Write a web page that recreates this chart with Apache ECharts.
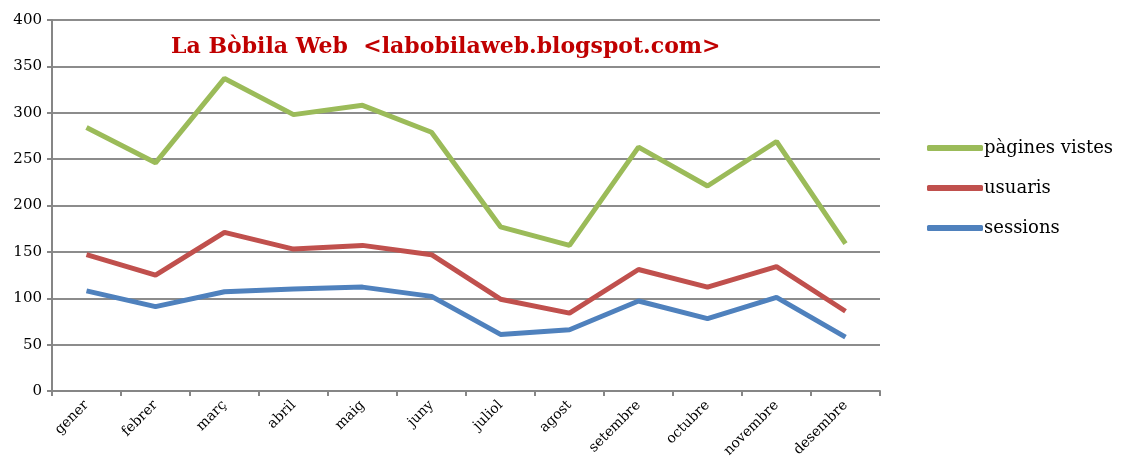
<!DOCTYPE html>
<html>
<head>
<meta charset="utf-8">
<style>
  html, body { margin: 0; padding: 0; background: #fff; }
  #chart { width: 1121px; height: 463px; }
</style>
</head>
<body>
<div id="chart"></div>
<script src="https://cdn.jsdelivr.net/npm/echarts@6/dist/echarts.min.js"></script>
<script>
var months = ['gener', 'febrer', 'març', 'abril', 'maig', 'juny', 'juliol', 'agost', 'setembre', 'octubre', 'novembre', 'desembre'];
var pagines = [284, 246, 337, 298, 308, 279, 177, 157, 263, 221, 269, 159];
var usuaris = [147, 125, 171, 153, 157, 147, 99, 84, 131, 112, 134, 86];
var sessions = [108, 91, 107, 110, 112, 102, 61, 66, 97, 78, 101, 58];

var serif = "'DejaVu Serif', 'Liberation Serif', serif";
var chart = echarts.init(document.getElementById('chart'));

function line(name, data, color) {
  return {
    name: name,
    type: 'line',
    data: data,
    symbol: 'none',
    lineStyle: { width: 5, color: color },
    itemStyle: { color: color }
  };
}

chart.setOption({
  animation: false,
  title: {
    text: 'La Bòbila Web  <labobilaweb.blogspot.com>',
    left: 166,
    top: 31,
    textStyle: { fontFamily: serif, fontSize: 22, fontWeight: 'bold', color: '#C00000' }
  },
  legend: {
    orient: 'vertical',
    left: 922,
    top: 134,
    itemWidth: 56,
    itemHeight: 6,
    itemGap: 22,
    icon: 'roundRect',
    textStyle: { fontFamily: serif, fontSize: 18, color: '#000', padding: [0, 0, 0, -4] }
  },
  grid: { left: 52, right: 241, top: 20, bottom: 72 },
  xAxis: {
    type: 'category',
    data: months,
    boundaryGap: true,
    axisLine: { lineStyle: { color: '#868686', width: 2 } },
    axisTick: { show: true, length: 5, lineStyle: { color: '#868686', width: 2 } },
    axisLabel: { rotate: 45, interval: 0, fontFamily: serif, fontSize: 14, color: '#000', margin: 12 }
  },
  yAxis: {
    type: 'value',
    min: 0,
    max: 400,
    interval: 50,
    axisLine: { show: true, lineStyle: { color: '#868686', width: 2 } },
    axisTick: { show: true, length: 5, lineStyle: { color: '#868686', width: 2 } },
    axisLabel: { fontFamily: serif, fontSize: 15, color: '#000', margin: 10 },
    splitLine: { lineStyle: { color: '#8c8c8c', width: 2 } }
  },
  series: [
    line('pàgines vistes', pagines, '#9BBB59'),
    line('usuaris', usuaris, '#C0504D'),
    line('sessions', sessions, '#4F81BD')
  ]
});
</script>
</body>
</html>
